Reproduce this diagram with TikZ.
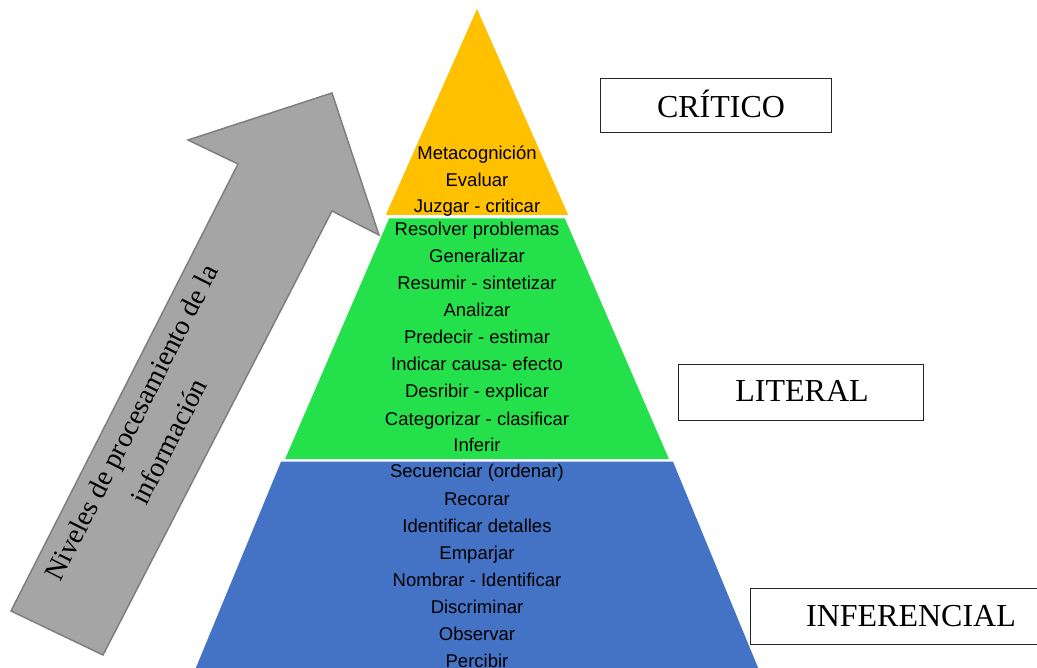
\documentclass[tikz,border=0pt]{standalone}
\usepackage{fontspec}
\setmainfont{Liberation Serif}
\newfontfamily\arialf{Liberation Sans}
\definecolor{orangeband}{HTML}{FFC000}
\definecolor{greenband}{HTML}{24E14B}
\definecolor{blueband}{HTML}{4472C4}
\definecolor{arrowfill}{HTML}{A5A5A5}
\definecolor{arrowline}{HTML}{7F7F7F}
\tikzset{
  itemtext/.style={font=\arialf\fontsize{18.5}{20}\selectfont, anchor=base, inner sep=0pt, text=black},
  lvlbox/.style={draw=black!85, line width=0.9pt, fill=white, inner sep=0pt},
  lvltext/.style={font=\fontsize{32}{36}\selectfont, anchor=base, inner sep=0pt},
}
\begin{document}
\begin{tikzpicture}[x=1pt,y=-1pt]
\useasboundingbox (0,0) rectangle (1037,668);
\clip (0,0) rectangle (1037,668);
% pyramid bands
\fill[orangeband] (477,9) -- (568.2,215) -- (385.8,215) -- cycle;
\fill[greenband] (389.2,218.3) -- (564.8,218.3) -- (668.9,459) -- (285.1,459) -- cycle;
\fill[blueband] (281,461.7) -- (673,461.7) -- (759,670) -- (195,670) -- cycle;
% arrow
\draw[fill=arrowfill, draw=arrowline, line width=1.5pt, line join=miter]
  (332,93) -- (379,235) -- (332,211) -- (103,655) -- (11,611) -- (238,164) -- (188,140) -- cycle;
\node[font=\fontsize{28}{42}\selectfont, align=center, rotate=63.1, inner sep=0pt] (arrowtxt) at (150,432)
  {Niveles de procesamiento de la\\información};
% orange items
\foreach \t/\y [count=\i] in {Metacognición/160, Evaluar/186.5, Juzgar - criticar/213}
  \node[itemtext] (o\i) at (477,\y) {\t};
% green items
\foreach \t/\y [count=\i] in {Resolver problemas/236, Generalizar/263, Resumir - sintetizar/290, Analizar/317, Predecir - estimar/344, Indicar causa- efecto/371, Desribir - explicar/398, Categorizar - clasificar/425, Inferir/452}
  \node[itemtext] (g\i) at (477,\y) {\t};
% blue items
\foreach \t/\y [count=\i] in {Secuenciar (ordenar)/478, Recorar/505, Identificar detalles/532, Emparjar/559, Nombrar - Identificar/586, Discriminar/613, Observar/640, Percibir/667}
  \node[itemtext] (b\i) at (477,\y) {\t};
% level boxes
\node[lvlbox, minimum width=231pt, minimum height=54pt] (critico) at (715.5,105) {};
\node[lvltext] (criticotxt) at (721,118) {CRÍTICO};
\node[lvlbox, minimum width=245pt, minimum height=56pt] (literal) at (800.5,392) {};
\node[lvltext] (literaltxt) at (802,402) {LITERAL};
\node[lvlbox, minimum width=320pt, minimum height=56pt] (inferencial) at (910,616) {};
\node[lvltext] (inferencialtxt) at (911,626) {INFERENCIAL};
\end{tikzpicture}
\end{document}
